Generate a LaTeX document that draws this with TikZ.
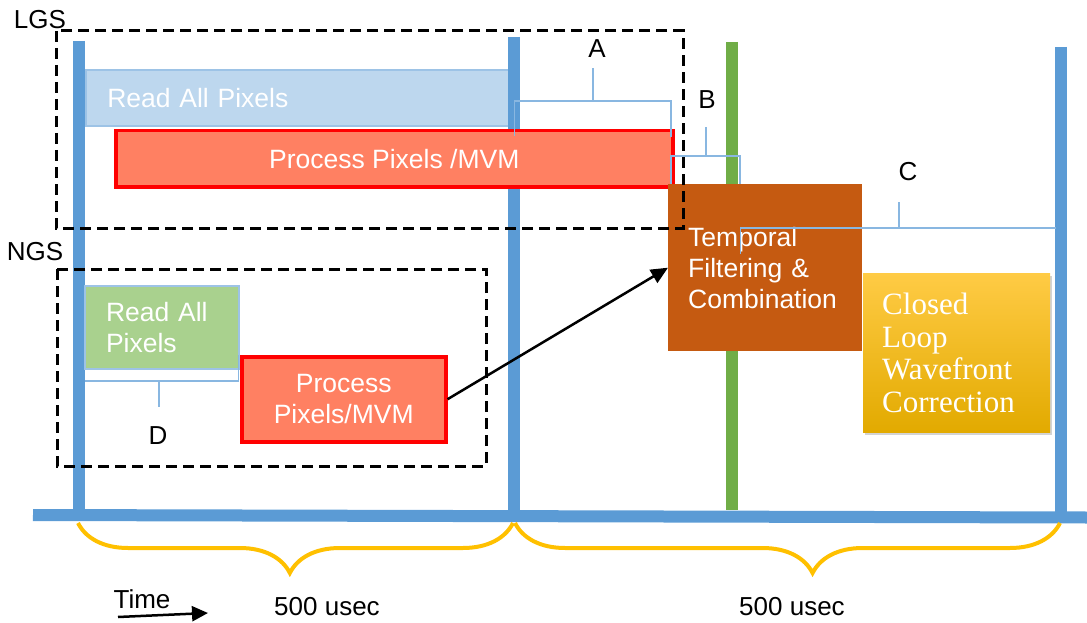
\documentclass[tikz,border=0pt]{standalone}
\usepackage{fontspec}
\setmainfont{Liberation Sans}
\newfontfamily\serifb{Liberation Serif}
\usetikzlibrary{decorations.pathreplacing,shadows,arrows.meta}
\definecolor{barblue}{HTML}{5B9BD5}
\definecolor{ltblue}{HTML}{BDD7EE}
\definecolor{ltbord}{HTML}{9DC3E6}
\definecolor{salmon}{HTML}{FF8062}
\definecolor{pured}{HTML}{FF0000}
\definecolor{brown}{HTML}{C55A11}
\definecolor{grnbox}{HTML}{A9D18E}
\definecolor{grnbar}{HTML}{70AD47}
\definecolor{yel}{HTML}{FFC000}
\definecolor{yeltop}{HTML}{FFCB45}
\definecolor{yelbot}{HTML}{E2AA00}
\begin{document}
\begin{tikzpicture}[x=1pt,y=-1pt,
  lbl/.style={font=\fontsize{26}{30}\selectfont, inner sep=0pt},
  boxtxt/.style={font=\fontsize{26.5}{31}\selectfont, text=white, anchor=north west},
  procbox/.style={boxtxt, fill=salmon, draw=pured, line width=3.5pt, align=center},
  bluebar/.style={line width=12pt, barblue},
  greenbar/.style={line width=12.5pt, grnbar},
  brk/.style={draw=ltbord!70!barblue, line width=1.8pt},
  dbox/.style={draw=black, line width=3pt, dash pattern=on 11pt off 6pt},
  ybrace/.style={decorate, decoration={brace, mirror, amplitude=50pt, aspect=#1}, draw=yel, line width=4pt}
]
\useasboundingbox (0,0) rectangle (1087,623);

% LGS read box (below the bars)
\node[boxtxt, fill=ltblue, draw=ltbord, line width=2.5pt, minimum width=431pt, minimum height=56pt,
      text width=387pt, inner xsep=22pt, align=left] (lgsread) at (84,69) {Read All Pixels};

% time axis and bars
\coordinate (b1t) at (78.5,41);  \coordinate (b1b) at (78.5,515);
\coordinate (b2t) at (513.5,37); \coordinate (b2b) at (513.5,516);
\coordinate (b3t) at (1060.5,47); \coordinate (b3b) at (1060.5,517);
\coordinate (gt) at (732,42);    \coordinate (gb) at (732,510);
\coordinate (axl) at (33,515);   \coordinate (axr) at (1087,517.5);
\draw[bluebar] (b1t) -- (b1b);
\draw[bluebar] (b2t) -- (b2b);
\draw[bluebar] (b3t) -- (b3b);
\draw[greenbar] (gt) -- (gb);
\draw[bluebar] (axl) -- (axr);

% boxes
\node[procbox, minimum width=557pt, minimum height=56pt] (lgsproc) at (114,129) {Process Pixels /MVM};
\node[boxtxt, fill=brown, minimum width=194pt, minimum height=167pt, text width=154pt, inner xsep=20pt,
      align=left] (temporal) at (668,184) {Temporal\\Filtering \&\\Combination};
\node[boxtxt, font=\serifb\fontsize{31}{32.5}\selectfont, shading=axis, top color=yeltop, middle color=yel,
      bottom color=yelbot, drop shadow={shadow xshift=2pt, shadow yshift=-3pt, opacity=0.35},
      minimum width=187pt, minimum height=159pt, text width=149pt, inner xsep=19pt, align=left]
      (closed) at (863,273) {Closed\\Loop\\Wavefront\\Correction};
\node[boxtxt, fill=grnbox, draw=ltbord, line width=2pt, minimum width=154pt, minimum height=83pt,
      text width=112pt, inner xsep=21pt, align=left] (ngsread) at (84,285) {Read All\\Pixels};
\node[procbox, minimum width=204pt, minimum height=85pt] (ngsproc) at (240,355) {Process\\Pixels/MVM};

% arrow NGS -> temporal
\draw[-{Triangle[length=17pt,width=15pt]}, line width=2.5pt] (ngsproc.east) -- (temporal.west);

% bracket A
\coordinate (a1) at (514.5,136); \coordinate (a2) at (514.5,101); \coordinate (a3) at (671,101);
\coordinate (a4) at (671,137);   \coordinate (am) at (593,101);   \coordinate (at) at (593,68);
\draw[brk] (a1) -- (a2) -- (a3) -- (a4);
\draw[brk] (am) -- (at);
\node[lbl] (labA) at (597,49) {A};
% bracket B
\coordinate (bb1) at (671,184); \coordinate (bb2) at (671,156); \coordinate (bb3) at (740,156);
\coordinate (bb4) at (740,184); \coordinate (bm) at (706,156);  \coordinate (bt) at (706,127);
\draw[brk] (bb1) -- (bb2) -- (bb3) -- (bb4);
\draw[brk] (bm) -- (bt);
\node[lbl] (labB) at (707,100) {B};
% bracket C
\coordinate (c1) at (740.5,254); \coordinate (c2) at (740.5,228); \coordinate (c3) at (1056,228);
\coordinate (cm) at (899,228);   \coordinate (ct) at (899,202);
\draw[brk] (c1) -- (c2) -- (c3);
\draw[brk] (cm) -- (ct);
\node[lbl] (labC) at (908,172) {C};
% bracket D
\coordinate (d1) at (85,381); \coordinate (d2) at (238.5,381); \coordinate (d3) at (238.5,355);
\coordinate (dm) at (159,381); \coordinate (dt) at (159,407);
\draw[brk] (d1) -- (d2) -- (d3);
\draw[brk] (dm) -- (dt);
\node[lbl] (labD) at (158,436) {D};

% dashed groups
\draw[dbox] (56,31) rectangle (683,228);
\draw[dbox] (57,269) rectangle (486,466);
\node[lbl] (lgs) at (40,20) {LGS};
\node[lbl] (ngs) at (35,252) {NGS};

% braces
\coordinate (br1l) at (78,523); \coordinate (br1r) at (513,523);
\coordinate (br2l) at (515,523); \coordinate (br2r) at (1060,523);
\draw[ybrace=0.487] (br1l) -- (br1r);
\draw[ybrace=0.546] (br2l) -- (br2r);
\node[lbl, font=\fontsize{26}{30}\selectfont] (t1) at (327,607) {500 usec};
\node[lbl, font=\fontsize{26}{30}\selectfont] (t2) at (792,607) {500 usec};

% time arrow
\node[lbl, font=\fontsize{26}{30}\selectfont] (time) at (142,599) {Time};
\coordinate (ta1) at (118,617); \coordinate (ta2) at (208,613);
\draw[-{Triangle[length=16pt,width=15pt]}, line width=2.5pt] (ta1) -- (ta2);
\end{tikzpicture}
\end{document}
